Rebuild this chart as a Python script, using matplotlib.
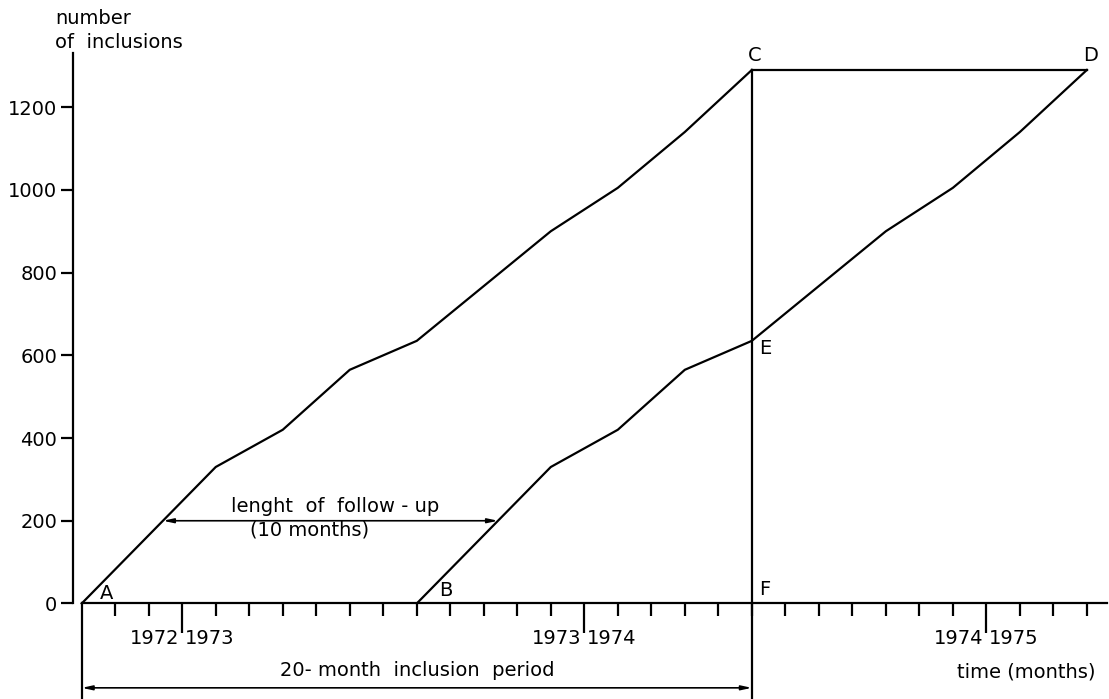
import numpy as np
import matplotlib
matplotlib.use('Agg')
import matplotlib.pyplot as plt
from matplotlib.ticker import FixedLocator, NullFormatter

# cumulative inclusions
months = np.array([0, 4, 6, 8, 10, 14, 16, 18, 20])
inclusions = np.array([0, 330, 420, 565, 635, 900, 1005, 1140, 1290])
follow_up = 10          # months of follow-up
period = 20             # inclusion period in months
last_month = 30
year_bounds = [3, 15, 27]
year_labels = [('1972', '1973'), ('1973', '1974'), ('1974', '1975')]
y_ticks = [0, 200, 400, 600, 800, 1000, 1200]

plt.rcParams['font.family'] = ['DejaVu Sans']
FS = 14
LW = 1.6

fig = plt.figure(figsize=(11.09, 6.99), dpi=100)
ax = fig.add_axes([73 / 1109, 0, 1034 / 1109, 646 / 699])
ax.set_xlim(-0.26, 30.6)
ax.set_ylim(-231, 1331)

for s in ['top', 'right']:
    ax.spines[s].set_visible(False)
ax.spines['left'].set_bounds(0, 1331)
ax.spines['left'].set_linewidth(LW)
ax.spines['bottom'].set_position(('data', 0))
ax.spines['bottom'].set_bounds(0, 30.6)
ax.spines['bottom'].set_linewidth(LW)

ax.set_yticks(y_ticks)
ax.tick_params(axis='y', direction='out', length=8.5, width=LW, labelsize=FS, pad=3)
ax.xaxis.set_major_locator(FixedLocator(year_bounds))
ax.xaxis.set_minor_locator(FixedLocator([m for m in range(1, last_month + 1) if m not in year_bounds]))
ax.xaxis.set_major_formatter(NullFormatter())
ax.tick_params(axis='x', which='major', direction='out', length=21.5, width=LW)
ax.tick_params(axis='x', which='minor', direction='out', length=9.5, width=LW)

# curves A->C and B->E->D
ax.plot(months, inclusions, color='black', lw=LW, solid_joinstyle='miter')
ax.plot(months + follow_up, inclusions, color='black', lw=LW, solid_joinstyle='miter')
ax.plot([period, last_month], [inclusions[-1], inclusions[-1]], color='black', lw=LW)
ax.plot([period, period], [inclusions[-1], -231], color='black', lw=LW, clip_on=False)
ax.plot([0, 0], [0, -231], color='black', lw=LW, clip_on=False)

# follow-up arrow
x_fu = np.interp(200, inclusions, months)
ax.annotate('', xy=(x_fu + follow_up, 200), xytext=(x_fu, 200),
            arrowprops=dict(arrowstyle='<|-|>,head_length=0.6,head_width=0.13',
                            color='black', lw=1.2, shrinkA=0, shrinkB=0))
ax.text(7.55, 220, 'lenght  of  follow - up', fontsize=FS, ha='center', va='baseline')
ax.text(6.8, 177, '(10 months)', fontsize=FS, ha='center', va='center')

# inclusion period arrow
ax.annotate('', xy=(period, -204), xytext=(0, -204), annotation_clip=False,
            arrowprops=dict(arrowstyle='<|-|>,head_length=0.6,head_width=0.13',
                            color='black', lw=1.2, shrinkA=0, shrinkB=0))
ax.text(10, -161, '20- month  inclusion  period', fontsize=FS, ha='center', va='center')

# year boundaries
for xb, (left, right) in zip(year_bounds, year_labels):
    ax.text(xb - 0.08, -84, left, fontsize=FS, ha='right', va='center')
    ax.text(xb + 0.08, -84, right, fontsize=FS, ha='left', va='center')

ax.text(30.25, -165, 'time (months)', fontsize=FS, ha='right', va='center')

# point letters
for lab, x, y in [('A', 0.73, 25), ('B', 10.87, 32), ('F', 20.4, 34), ('E', 20.4, 617),
                  ('C', 20.1, 1326), ('D', 30.1, 1326)]:
    ax.text(x, y, lab, fontsize=FS, ha='center', va='center', clip_on=False)

fig.text(55 / 1109, 1 - 18 / 699, 'number', fontsize=FS, ha='left', va='center')
fig.text(55 / 1109, 1 - 42 / 699, 'of  inclusions', fontsize=FS, ha='left', va='center')

fig.savefig('out.png', dpi=100)
